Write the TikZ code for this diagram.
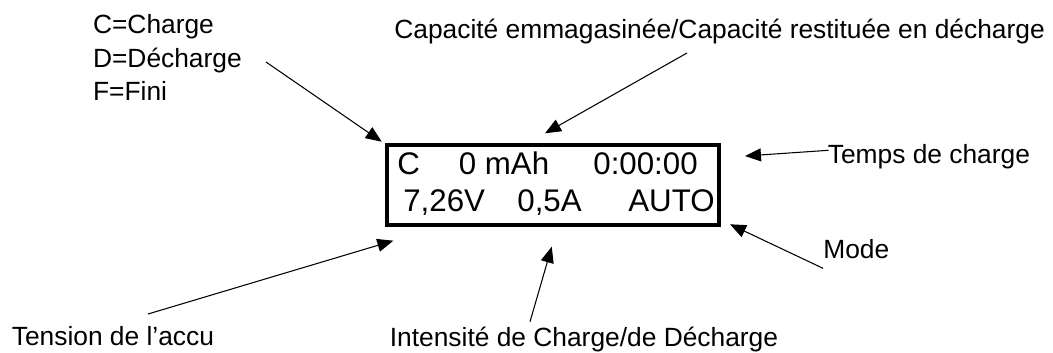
\documentclass[tikz,border=0pt]{standalone}
\usepackage{fontspec}
\setmainfont{Liberation Sans}
\usetikzlibrary{arrows.meta,calc}

\begin{document}
\begin{tikzpicture}[x=0.02cm,y=-0.02cm,
    lbl/.style={inner sep=0pt,font=\fontsize{15}{19}\selectfont},
    lcdbox/.style={draw,line width=0.08cm,minimum width=6.65cm,minimum height=1.612cm,inner sep=0pt},
    lcdtext/.style={inner sep=0pt,anchor=base west,font=\fontsize{17.8}{20}\selectfont},
    pointer/.style={line width=0.6pt,-{Triangle[length=0.32cm,width=0.26cm]}}]
  \useasboundingbox (0,0) rectangle (1053,352);
  \node[lcdbox] (lcd) at (553.25,185) {};
  \foreach \txt/\x/\y/\nom in {C/397/174.3/etat, 0 mAh/458.5/174.3/capa, 0:00:00/593/174.3/temps,
                               {7,26V}/403/211/tension, {0,5A}/517/211/courant, AUTO/628/211/mode}{
    \node[lcdtext] (lcd-\nom) at (\x,\y) {\txt};
  }
  \node[lbl,anchor=north west,align=left] (etats) at (92.7,14.5) {C=Charge\\D=Décharge\\F=Fini};
  \node[lbl,anchor=base west] (capacite) at (394,38) {Capacité emmagasinée/Capacité restituée en décharge};
  \node[lbl,anchor=base west] (duree) at (827.5,163.3) {Temps de charge};
  \node[lbl,anchor=base west] (modelbl) at (823,258.3) {Mode};
  \node[lbl,anchor=base west] (tensionlbl) at (11.5,345) {Tension de l’accu};
  \node[lbl,anchor=base west] (intensite) at (389.5,346) {Intensité de Charge/de Décharge};
  \draw[pointer] ($(etats.north west)+(173.3,47.5)$) -- ($(lcd.north west)+(-3.3,-1)$);
  \draw[pointer] ($(capacite.base west)+(293,15)$) -- ($(lcd.north)+(-8.25,-9.4)$);
  \draw[pointer] ($(duree.base west)+(1,-13)$) -- ($(lcd.north east)+(23.5,13.3)$);
  \draw[pointer] ($(modelbl.base west)+(0,10)$) -- ($(lcd.south east)+(8.5,-3)$);
  \draw[pointer] ($(tensionlbl.base west)+(136.5,-31)$) -- ($(lcd.south west)+(8.3,13.4)$);
  \draw[pointer] ($(intensite.base west)+(140.5,-24.3)$) -- ($(lcd.south)+(-1.5,19.4)$);
\end{tikzpicture}
\end{document}
